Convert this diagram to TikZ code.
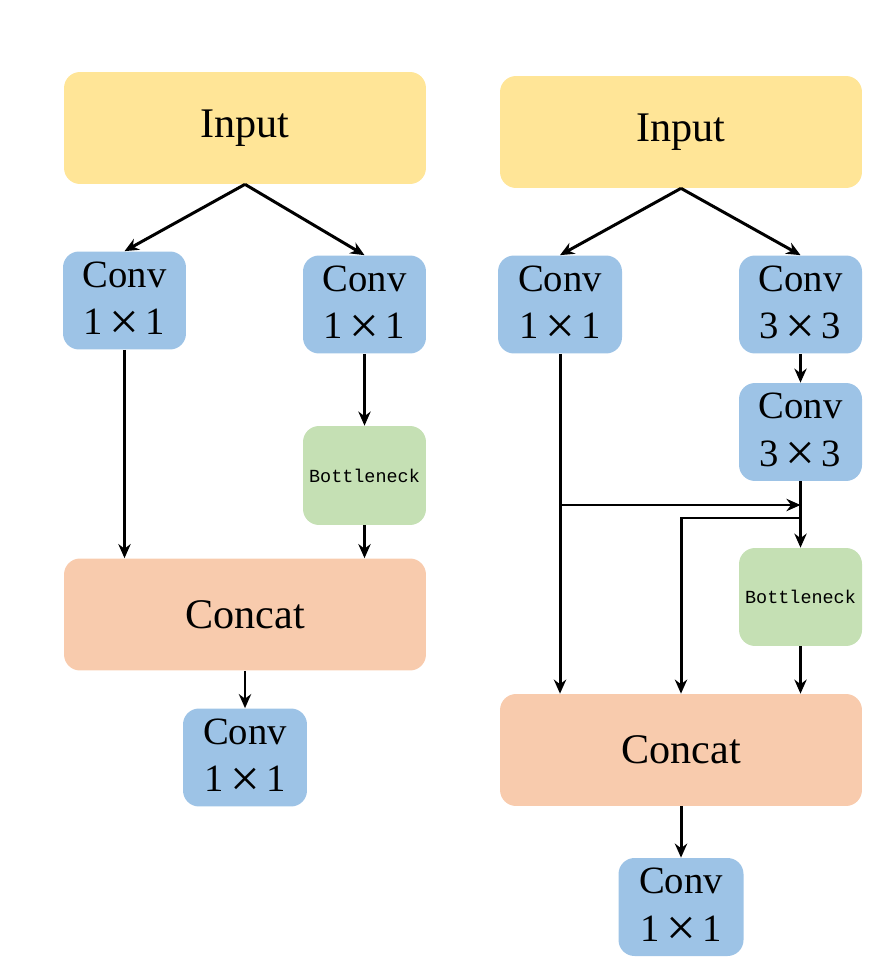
\documentclass[tikz,border=0pt]{standalone}
\usepackage{fontspec}
\setmainfont{Liberation Serif}
\newfontfamily\bnfont{Liberation Mono}
\usetikzlibrary{arrows.meta}
\definecolor{cyel}{HTML}{FFE597}
\definecolor{cblu}{HTML}{9DC3E6}
\definecolor{cgrn}{HTML}{C5E0B4}
\definecolor{corg}{HTML}{F8CBAD}
\newcommand{\bigx}{\,\raisebox{-2.6pt}{\fontsize{30}{27}\selectfont ×}\,}
\tikzset{
  box/.style={draw=none, rounded corners=0.32cm, inner sep=0pt, align=center},
  bigbox/.style={box, minimum width=7.24cm, minimum height=2.24cm, font=\fontsize{24}{28}\selectfont},
  convbox/.style={box, fill=cblu, minimum width=2.46cm, minimum height=1.96cm, font=\fontsize{22}{27}\selectfont},
  bnbox/.style={box, fill=cgrn, minimum width=2.46cm, minimum height=1.98cm, font=\bnfont\fontsize{10.5}{12}\selectfont},
  arr/.style={line width=1.7pt, -{Stealth[length=8pt,width=7pt]}},
  ln/.style={line width=1.7pt}
}
\begin{document}
\begin{tikzpicture}[x=0.02cm, y=-0.02cm]
\useasboundingbox (0,0) rectangle (894,972);
% left
\node[bigbox, fill=cyel] (inL) at (245,128) {Input};
\node[convbox] (c1L) at (124.5,300.5) {Conv\\1\bigx 1};
\node[convbox] (c2L) at (364.5,304.5) {Conv\\1\bigx 1};
\node[bnbox] (bnL) at (364.5,475.5) {Bottleneck};
\node[bigbox, fill=corg] (ccL) at (245,614.5) {Concat};
\node[convbox, minimum width=2.48cm] (c3L) at (245,757.5) {Conv\\1\bigx 1};
\draw[arr] (inL.south) -- (c1L.north);
\draw[arr] (inL.south) -- (c2L.north);
\draw[arr] (c1L.south) -- (c1L.south |- ccL.north);
\draw[arr] (c2L.south) -- (bnL.north);
\draw[arr] (bnL.south) -- (bnL.south |- ccL.north);
\draw[arr] (ccL.south) -- (c3L.north);
% right
\node[bigbox, fill=cyel] (inR) at (681,132) {Input};
\node[convbox, minimum width=2.48cm] (c1R) at (560,304.5) {Conv\\1\bigx 1};
\node[convbox] (c2R) at (800.5,304.5) {Conv\\3\bigx 3};
\node[convbox] (c3R) at (800.5,432) {Conv\\3\bigx 3};
\node[bnbox, minimum height=1.96cm] (bnR) at (800.5,597) {Bottleneck};
\node[bigbox, fill=corg] (ccR) at (681,750) {Concat};
\node[convbox, minimum width=2.5cm] (c4R) at (681,907) {Conv\\1\bigx 1};
\draw[arr] (inR.south) -- (c1R.north);
\draw[arr] (inR.south) -- (c2R.north);
\draw[arr] (c2R.south) -- (c3R.north);
\draw[arr] (c3R.south) -- (bnR.north);
\draw[arr] (c1R.south) -- (c1R.south |- ccR.north);
\coordinate (j1) at (560,505);
\draw[arr] (j1) -- (j1 -| c3R.south);
\coordinate (j2) at (800.5,518);
\draw[arr] (j2) -| (ccR.north);
\draw[arr] (bnR.south) -- (bnR.south |- ccR.north);
\draw[arr] (ccR.south) -- (c4R.north);
\end{tikzpicture}
\end{document}
